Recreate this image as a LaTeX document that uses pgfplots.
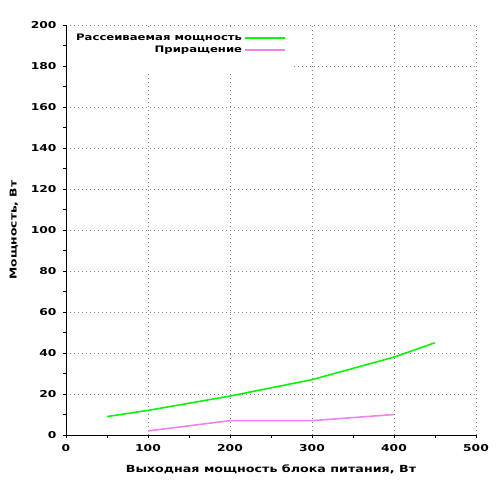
\documentclass[border=0pt]{standalone}
\usepackage{fontspec}
\setmainfont{DejaVu Sans}[BoldFont={DejaVu Sans Bold}, BoldFeatures={FakeStretch=1.3}]
\usepackage{pgfplots}
\pgfplotsset{compat=1.18}
\definecolor{pgreen}{RGB}{10,245,10}
\definecolor{ppink}{RGB}{238,130,238}
\begin{document}
\begin{tikzpicture}
\begin{axis}[
  scale only axis, width=410bp, height=410bp,
  xmin=0, xmax=500, ymin=0, ymax=200,
  xtick={0,100,...,500}, ytick={0,20,...,200},
  minor x tick num=1, minor y tick num=1,
  axis x line*=bottom, axis y line*=left,
  tick align=outside, major tick length=3bp, minor tick length=3bp,
  tick style={black, line width=0.8pt},
  axis line style={black, line width=1pt},
  grid=major, major grid style={gray, line width=0.75bp, dash pattern=on 1bp off 3bp},
  font=\bfseries\fontsize{9.5}{11}\selectfont,
  /pgf/number format/assume math mode=true,
  xticklabel style={yshift=-3bp},
  yticklabel style={xshift=-3bp},
  xlabel={Выходная мощность блока питания, Вт},
  ylabel={Мощность, Вт},
  xlabel style={yshift=-6bp, font=\bfseries\fontsize{9.8}{11}\selectfont},
  ylabel style={yshift=6bp},
  legend cell align=right,
  legend plot pos=right,
  legend style={at={(0,1)}, anchor=north west, xshift=2bp, yshift=-5bp, draw=none, fill=white,
    inner xsep=6bp, inner ysep=2bp, row sep=0bp,
    font=\bfseries\fontsize{9}{10}\selectfont},
  legend image code/.code={\draw[#1] (0bp,0bp) -- (40bp,0bp);},
  every axis plot/.append style={line width=1.6pt},
]
\addplot[pgreen] coordinates {(50,9) (100,12) (200,19) (300,27) (400,38) (450,45)};
\addplot[ppink] coordinates {(100,2) (200,7) (300,7) (400,10)};
\legend{Рассеиваемая мощность, Приращение}
\addlegendimage{empty legend}
\addlegendentry{\strut}
\end{axis}
\useasboundingbox (-66bp,-65bp) rectangle (434bp,435bp);
\end{tikzpicture}
\end{document}
